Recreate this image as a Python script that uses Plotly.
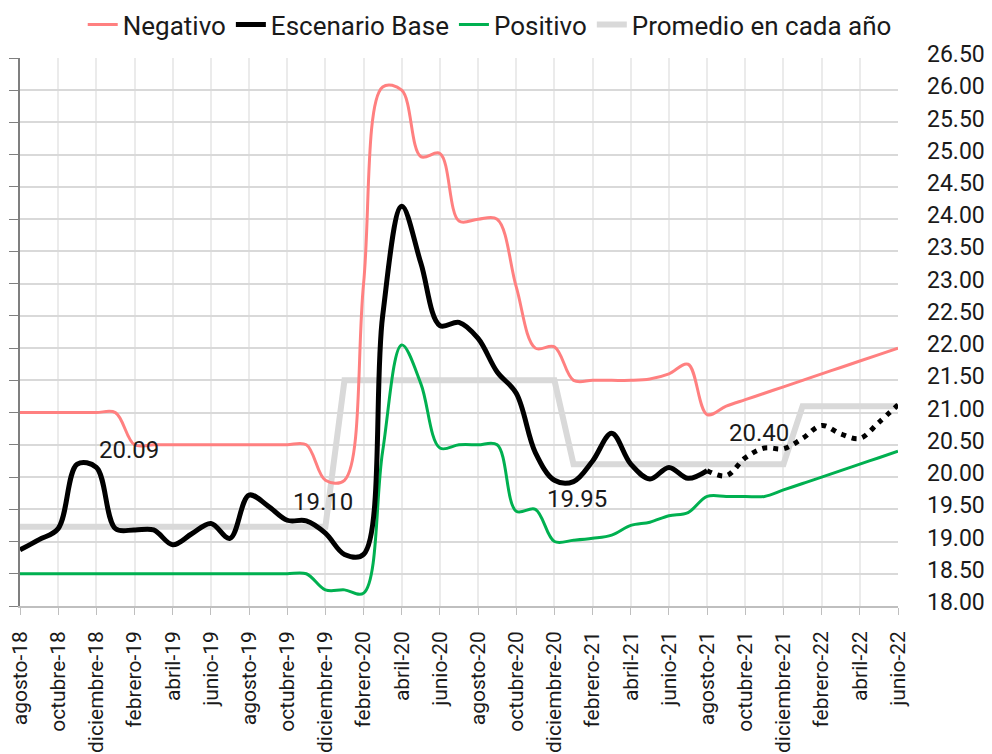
import plotly.graph_objects as go

# ---------------- data ----------------
meses = ["enero", "febrero", "marzo", "abril", "mayo", "junio", "julio",
         "agosto", "septiembre", "octubre", "noviembre", "diciembre"]
categorias = []
for anio in range(18, 23):
    for m_i, m in enumerate(meses):
        if (anio == 18 and m_i < 7) or (anio == 22 and m_i > 5):
            continue
        categorias.append(f"{m}-{anio}")

negativo = [21.0, 21.0, 21.0, 21.0, 21.0, 21.0,
            20.5, 20.5, 20.5, 20.5, 20.5, 20.5, 20.5, 20.5, 20.5, 20.5,
            19.95, 19.95, 23.0, 26.05, 26.0, 24.97, 25.02, 23.97, 24.0, 24.0,
            22.95, 22.0, 22.02, 21.5, 21.5, 21.5, 21.5, 21.52, 21.6, 21.75,
            20.97, 21.1, 21.2, 21.3, 21.4, 21.5, 21.6, 21.7, 21.8, 21.9, 22.0]

escenario_base = [18.87, 19.03, 19.2, 20.2, 20.15, 19.2, 19.18, 19.18, 18.95,
                  19.12, 19.28, 19.05, 19.72, 19.55, 19.33, 19.32, 19.13, 18.8,
                  18.8, 22.5, 24.2, 23.32, 22.35, 22.4, 22.15, 21.63, 21.3,
                  20.38, 19.95, 19.93, 20.25, 20.68, 20.2, 19.97, 20.15, 19.98,
                  20.1, 20.02, 20.3, 20.45, 20.44, 20.6, 20.8, 20.67, 20.6,
                  20.85, 21.12]
ultimo_observado = 36  # agosto-21: after this the base scenario is a projection

positivo = [18.5] * 16 + [18.25, 18.25, 18.2, 20.4, 22.05, 21.45, 20.45, 20.5,
                          20.5, 20.5, 19.47, 19.5, 19.0, 19.02, 19.05, 19.1,
                          19.25, 19.3, 19.4, 19.45, 19.7, 19.7, 19.7, 19.7,
                          19.8, 19.9, 20.0, 20.1, 20.2, 20.3, 20.4]

promedio = [19.23] * 17 + [21.5] * 12 + [20.2] * 12 + [21.1] * 6

etiquetas_texto = ["20.09", "19.10", "19.95", "20.40"]
etiquetas_x = [5.7, 15.9, 29.2, 38.7]
etiquetas_y = [20.42, 19.61, 19.66, 20.68]

y_ticks = [18 + 0.5 * k for k in range(18)]

FONT = "Roboto"

# ---------------- figure ----------------
fig = go.Figure()

fig.add_trace(go.Scatter(
    x=categorias, y=promedio, mode="lines", name="Promedio en cada año",
    line=dict(color="#d9d9d9", width=6), legendrank=4))

fig.add_trace(go.Scatter(
    x=categorias, y=negativo, mode="lines", name="Negativo",
    line=dict(color="#ff8080", width=3, shape="spline", smoothing=1),
    legendrank=1))

fig.add_trace(go.Scatter(
    x=categorias, y=positivo, mode="lines", name="Positivo",
    line=dict(color="#00b050", width=3, shape="spline", smoothing=1),
    legendrank=3))

fig.add_trace(go.Scatter(
    x=categorias[:ultimo_observado + 1], y=escenario_base[:ultimo_observado + 1],
    mode="lines", name="Escenario Base",
    line=dict(color="#000000", width=5, shape="spline", smoothing=1),
    legendrank=2))

fig.add_trace(go.Scatter(
    x=categorias[ultimo_observado:], y=escenario_base[ultimo_observado:],
    mode="lines", name="Escenario Base (proyección)", showlegend=False,
    line=dict(color="#000000", width=5, shape="spline", smoothing=1,
              dash="5px,6px")))

for t, xx, yy in zip(etiquetas_texto, etiquetas_x, etiquetas_y):
    fig.add_annotation(x=xx, y=yy, xref="x", yref="y", text=t, showarrow=False,
                       font=dict(family=FONT, size=24, color="#1a1a1a"))

fig.update_layout(
    width=992, height=754,
    margin=dict(l=12, r=102, t=50, b=156, autoexpand=False),
    paper_bgcolor="white", plot_bgcolor="white",
    font=dict(family=FONT, color="#1a1a1a"),
    legend=dict(orientation="h", xref="paper", yref="container",
                x=0.535, xanchor="center", y=0.978, yanchor="middle",
                font=dict(family=FONT, size=26, color="#1a1a1a"),
                itemwidth=30, bgcolor="rgba(0,0,0,0)", traceorder="normal"),
    xaxis=dict(
        type="category", range=[0, len(categorias) - 1],
        dtick=2, tick0=0, tickangle=-90, automargin=False,
        tickfont=dict(family=FONT, size=21, color="#1a1a1a"),
        showgrid=True, gridcolor="#ebebeb", gridwidth=1.5,
        showline=True, linecolor="#bfbfbf", linewidth=1.5,
        ticks="outside", ticklen=7, tickcolor="#bfbfbf",
        ticklabelstandoff=8, zeroline=False),
    yaxis=dict(
        range=[18, 26.5], tickvals=y_ticks, side="left", automargin=False,
        showticklabels=False, showgrid=True, gridcolor="#d9d9d9", gridwidth=1.5,
        showline=True, linecolor="#7f7f7f", linewidth=1.5,
        ticks="outside", ticklen=9, tickcolor="#7f7f7f", zeroline=False),
    yaxis2=dict(
        range=[18, 26.5], tickvals=y_ticks, tickformat=".2f", automargin=False,
        overlaying="y", side="right", showgrid=False, showline=False,
        ticks="", zeroline=False, ticklabelstandoff=28, ticklabelshift=-4,
        tickfont=dict(family=FONT, size=23, color="#1a1a1a")),
)

# invisible trace to anchor the right-hand axis
fig.add_trace(go.Scatter(x=categorias, y=promedio, yaxis="y2", mode="lines",
                         line=dict(width=0), opacity=0, showlegend=False,
                         hoverinfo="skip"))

fig.write_html("out.html")
